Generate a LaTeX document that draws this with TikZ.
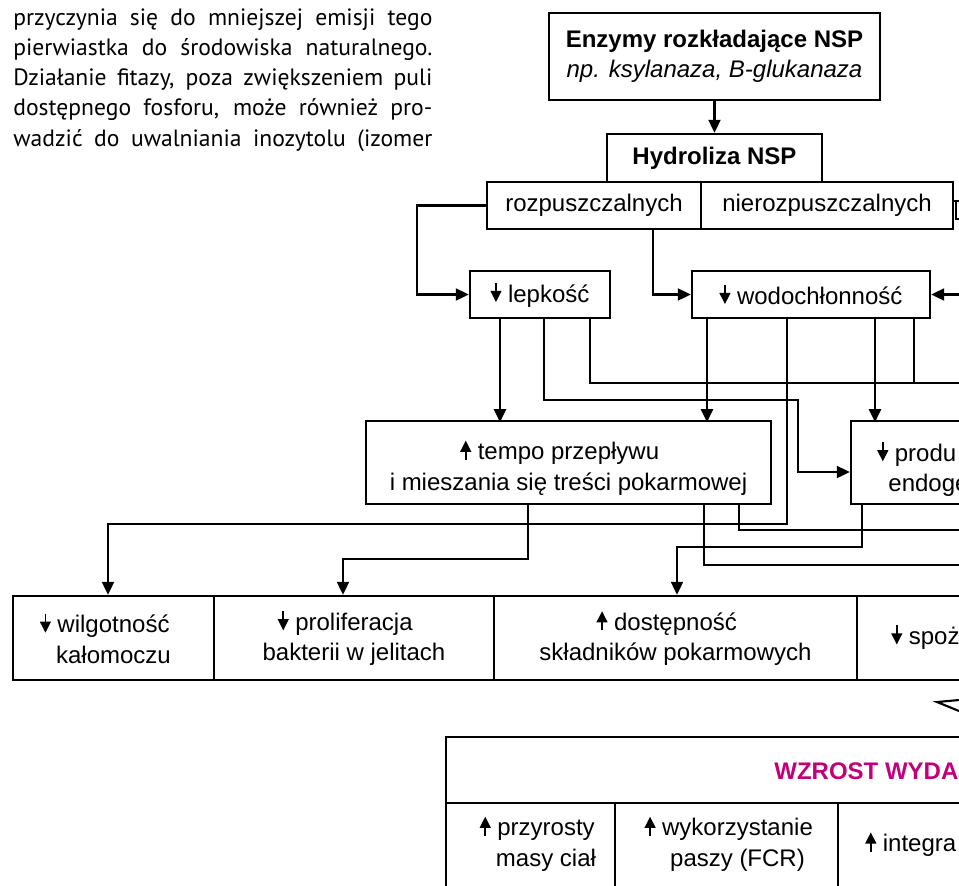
\documentclass[tikz,border=0pt]{standalone}
\usepackage{fontspec}
\setmainfont{Liberation Sans}
\newfontfamily\bodyfam{PT Sans}
\usepackage{xcolor}
\usepackage{tikz}
\usetikzlibrary{calc,arrows.meta}
\definecolor{wzrostMagenta}{HTML}{C2007B}
\newcommand{\diagfont}{\fontsize{12}{15.2}\selectfont}
\newcommand{\bodyfont}{\bodyfam\fontsize{11.8}{15}\selectfont}
\newcommand{\dnarr}{\tikz[baseline=0pt,x=1pt,y=1pt]{\path (0,0) rectangle (5.4,9.6); \draw[line width=0.9pt,-{Triangle[length=5.6pt,width=5.4pt]}] (2.7,9.6) -- (2.7,0);}}
\newcommand{\uparr}{\tikz[baseline=0pt,x=1pt,y=1pt]{\path (0,0) rectangle (5.4,9.6); \draw[line width=0.9pt,-{Triangle[length=5.6pt,width=5.4pt]}] (2.7,0) -- (2.7,9.6);}}
\tikzset{
  nspbox/.style={rectangle, draw=black, line width=1.2pt, align=center, font=\diagfont, inner sep=0pt},
  celltext/.style={font=\diagfont, align=center, inner sep=0pt},
  nsparrow/.style={-{Triangle[length=6.5pt,width=6pt]}, line width=1.05pt, draw=black},
  nspline/.style={line width=1.05pt, draw=black},
  bodyline/.style={font=\bodyfont, inner sep=0pt, anchor=base west},
}

\begin{document}
\begin{tikzpicture}[x=0.5pt,y=-0.5pt]
  \useasboundingbox (0,0) rectangle (959,885);
  \clip (0,0) rectangle (959,885);

  % running text of the page
  \foreach \bline [count=\i] in {{przyczynia się do mniejszej emisji tego}, {pierwiastka do środowiska naturalnego.}, {Działanie fitazy, poza zwiększeniem puli}, {dostępnego fosforu, może również pro-}, {wadzić do uwalniania inozytolu (izomer}}
    \node[bodyline] (body\i) at (13,{-5+30.2*\i}) {\makebox[209.5pt][s]{\bline}};

  % top part
  \node[nspbox, minimum width=165.5pt, minimum height=43.5pt] (enz) at (714.5,56.5) {\textbf{Enzymy rozkładające NSP}\\\textit{np. ksylanaza, B-glukanaza}};
  \node[nspbox, minimum width=107.5pt, minimum height=24pt] (hydr) at (714.5,158) {\textbf{Hydroliza NSP}};
  \node[nspbox, minimum width=107pt, minimum height=23.5pt] (rozp) at (594,205.5) {rozpuszczalnych};
  \node[nspbox, minimum width=126pt, minimum height=23.5pt] (nierozp) at (827,205.5) {nierozpuszczalnych};
  \node[nspbox, minimum width=70pt, minimum height=23.5pt] (lep) at (540,294.5) {\dnarr{} lepkość};
  \node[nspbox, minimum width=119pt, minimum height=23.5pt] (wod) at (811,294.5) {\dnarr{} wodochłonność};

  % middle row
  \node[nspbox, minimum width=202.5pt, minimum height=41.5pt] (tempo) at (568.5,462.5) {\rule{0pt}{15pt}\llap{\uparr\ }tempo przepływu\\i mieszania się treści pokarmowej};
  \node[nspbox, minimum width=124.5pt, minimum height=41.5pt] (prod) at (975.5,462.5) {};
  \node[celltext, align=left, anchor=west] (prodtxt) at (877,469) {\dnarr\ produ\\\hspace*{5.5pt}endoge};

  % bottom row
  \node[nspbox, minimum width=100.5pt, minimum height=42pt] (wilg) at (113.5,638) {\llap{\dnarr\ }wilgotność\\kałomoczu};
  \node[nspbox, minimum width=140pt, minimum height=42pt] (prol) at (354,638) {\llap{\dnarr\ }proliferacja\\bakterii w jelitach};
  \node[nspbox, minimum width=181.5pt, minimum height=42pt] (dost) at (675.5,638) {\llap{\uparr\ }dostępność\\składników pokarmowych};
  \node[nspbox, minimum width=121.5pt, minimum height=42pt] (spoz) at (978.5,638) {};
  \node[celltext, anchor=west] (spoztxt) at (891,637) {\dnarr\ spoż};

  % result table
  \node[nspbox, minimum width=477pt, minimum height=33pt] (wzrost) at (923,770) {};
  \node[celltext, anchor=west, font=\diagfont\bfseries, text=wzrostMagenta] (wzrosttxt) at (774,771) {WZROST WYDAJ};
  \node[nspbox, minimum width=84.5pt, minimum height=43.5pt] (przy) at (530.5,846.5) {};
  \node[nspbox, minimum width=111.5pt, minimum height=43.5pt] (wyk) at (726.5,846.5) {};
  \node[nspbox, minimum width=131pt, minimum height=43.5pt] (integ) at (969,846.5) {};
  \node[celltext] (przytxt) at (546,843.5) {\llap{\uparr\ }przyrosty\\masy ciał};
  \node[celltext] (wyktxt) at (737.5,843.5) {\llap{\uparr\ }wykorzystanie\\paszy (FCR)};
  \node[celltext, anchor=west] (integtxt) at (865,844) {\uparr\ integra};

  % free ends at the right border
  \coordinate (wodin) at (959,294.5);
  \coordinate (brA) at (959,201);
  \coordinate (brB) at (959,219);
  \coordinate (edgeA) at (959,383);
  \coordinate (edgeB) at (959,530);
  \coordinate (edgeC) at (959,565);

  \draw[nsparrow] (enz) -- (hydr);
  \draw[nsparrow] (rozp.west) -- ++(-69,0) |- (lep.west);
  \draw[nsparrow] ([xshift=29.5pt]rozp.south) |- (wod.west);
  \draw[nsparrow] (wodin) -- (wod.east);
  \draw[nspline] ([yshift=2.25pt]nierozp.east) -- (brA);
  \draw[nspline] ([xshift=1pt,yshift=2.25pt]nierozp.east) |- (brB);

  \foreach \src/\dx in {lep/-20pt, wod/-52pt, wod/32pt} { \draw[nsparrow] ([xshift=\dx]\src.south) -- ++(0,103); }
  \draw[nsparrow] ([xshift=2pt]lep.south) -- ++(0,81) -- ++(254,0) |- ([yshift=-4.75pt]prod.west);
  \draw[nspline] ([xshift=25pt]lep.south) |- (edgeA);
  \draw[nspline] ([xshift=51.5pt]wod.south) -- ++(0,65);
  \draw[nsparrow] ([xshift=-12pt]wod.south) -- ++(0,205) -| ([xshift=-2.75pt]wilg.north);

  \draw[nsparrow] ([xshift=-20.25pt]tempo.south) -- ++(0,54) -| ([xshift=-5.5pt]prol.north);
  \draw[nspline] ([xshift=85.25pt]tempo.south) |- (edgeB);
  \draw[nspline] ([xshift=67.75pt]tempo.south) |- (edgeC);
  \draw[nsparrow] ([xshift=-56.75pt]prod.south) -- ++(0,42) -| ([xshift=0.75pt]dost.north);

  % tip of the arrow coming from the right
  \draw[nspline] (959,700) -- (937,702) -- (959,711);
\end{tikzpicture}
\end{document}
